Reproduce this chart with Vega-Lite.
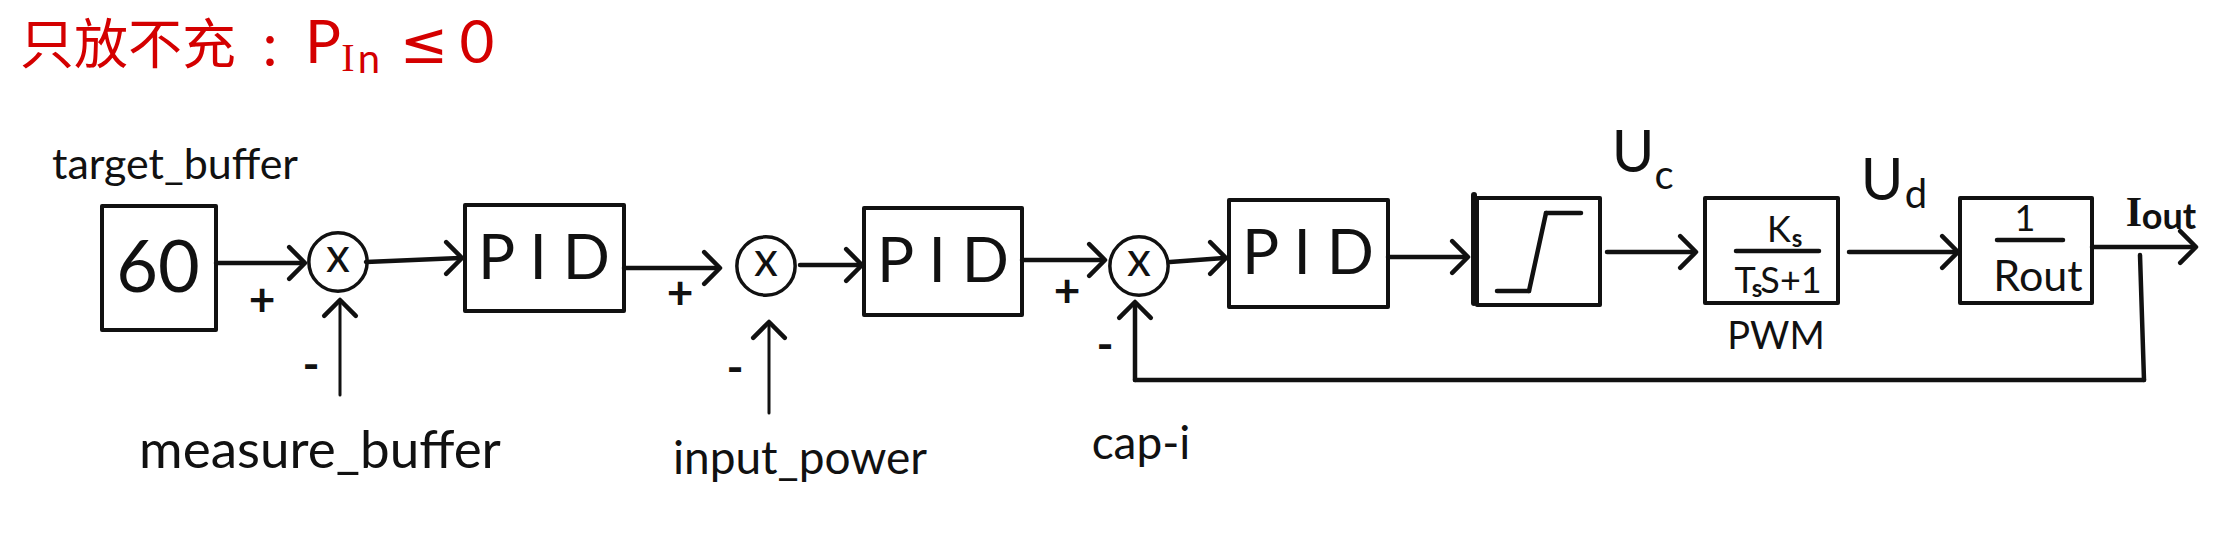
{
  "$schema": "https://vega.github.io/schema/vega-lite/v6.json",
  "width": 2221,
  "height": 548,
  "autosize": {"type": "fit", "contains": "padding"},
  "padding": 0,
  "background": "white",
  "config": {
    "view": {"stroke": null},
    "text": {"align": "center", "baseline": "middle", "font": "Lato, Roboto, sans-serif", "color": "#111111"}
  },
  "datasets": {
    "boxes": [
      {"block": "target", "x": 102, "x2": 216, "y": 206, "y2": 330},
      {"block": "pid1", "x": 465, "x2": 624, "y": 205, "y2": 311},
      {"block": "pid2", "x": 864, "x2": 1022, "y": 208, "y2": 315},
      {"block": "pid3", "x": 1229, "x2": 1388, "y": 200, "y2": 307},
      {"block": "sat", "x": 1477, "x2": 1600, "y": 198, "y2": 305},
      {"block": "pwm", "x": 1705, "x2": 1838, "y": 198, "y2": 303},
      {"block": "load", "x": 1960, "x2": 2092, "y": 198, "y2": 303}
    ],
    "segs": [
      {"kind": "main", "x": 216, "y": 263, "x2": 303, "y2": 263},
      {"kind": "main", "x": 366, "y": 262, "x2": 460, "y2": 258},
      {"kind": "main", "x": 624, "y": 268, "x2": 718, "y2": 268},
      {"kind": "main", "x": 800, "y": 265, "x2": 860, "y2": 265},
      {"kind": "main", "x": 1022, "y": 260, "x2": 1103, "y2": 260},
      {"kind": "main", "x": 1170, "y": 262, "x2": 1224, "y2": 258},
      {"kind": "main", "x": 1388, "y": 257, "x2": 1466, "y2": 257},
      {"kind": "main", "x": 1607, "y": 252, "x2": 1694, "y2": 252},
      {"kind": "main", "x": 1849, "y": 252, "x2": 1956, "y2": 252},
      {"kind": "main", "x": 2092, "y": 247, "x2": 2194, "y2": 247},
      {"kind": "main", "x": 2140, "y": 255, "x2": 2144, "y2": 380},
      {"kind": "main", "x": 2144, "y": 380, "x2": 1135, "y2": 380},
      {"kind": "main", "x": 1135, "y": 380, "x2": 1135, "y2": 304},
      {"kind": "main", "x": 1497, "y": 291, "x2": 1529, "y2": 291},
      {"kind": "main", "x": 1529, "y": 291, "x2": 1546, "y2": 213},
      {"kind": "main", "x": 1546, "y": 213, "x2": 1581, "y2": 213},
      {"kind": "main", "x": 1736, "y": 251, "x2": 1819, "y2": 251},
      {"kind": "main", "x": 1997, "y": 240, "x2": 2063, "y2": 240},
      {"kind": "thick", "x": 1474, "y": 195, "x2": 1474, "y2": 303},
      {"kind": "thin", "x": 340, "y": 395, "x2": 340, "y2": 302},
      {"kind": "thin", "x": 769, "y": 413, "x2": 769, "y2": 324}
    ],
    "heads": [
      {"x": 305, "y": 263, "dir": 0},
      {"x": 462, "y": 258, "dir": 0},
      {"x": 720, "y": 268, "dir": 0},
      {"x": 862, "y": 265, "dir": 0},
      {"x": 1105, "y": 260, "dir": 0},
      {"x": 1226, "y": 258, "dir": 0},
      {"x": 1468, "y": 257, "dir": 0},
      {"x": 1696, "y": 252, "dir": 0},
      {"x": 1958, "y": 252, "dir": 0},
      {"x": 2196, "y": 247, "dir": 0},
      {"x": 340, "y": 300, "dir": -90},
      {"x": 769, "y": 322, "dir": -90},
      {"x": 1135, "y": 302, "dir": -90}
    ],
    "junctions": [
      {"x": 338, "y": 262},
      {"x": 766, "y": 266},
      {"x": 1139, "y": 266}
    ],
    "labels": [
      {"role": "cjk", "x": 128, "y": 48, "text": "只放不充"},
      {"role": "tvar", "x": 270, "y": 48, "text": ":"},
      {"role": "tvar", "x": 323, "y": 45, "text": "P"},
      {"role": "tserif", "x": 348, "y": 59, "text": "I"},
      {"role": "tsub", "x": 369, "y": 61, "text": "n"},
      {"role": "tle", "x": 424, "y": 46, "text": "≤"},
      {"role": "tvar", "x": 477, "y": 45, "text": "0"},
      {"role": "small", "x": 175, "y": 166, "text": "target_buffer"},
      {"role": "big", "x": 158, "y": 270, "text": "60"},
      {"role": "pid", "x": 544, "y": 260, "text": "P I D"},
      {"role": "pid", "x": 943, "y": 263, "text": "P I D"},
      {"role": "pid", "x": 1308, "y": 255, "text": "P I D"},
      {"role": "xmark", "x": 338, "y": 258, "text": "x"},
      {"role": "xmark", "x": 766, "y": 262, "text": "x"},
      {"role": "xmark", "x": 1139, "y": 262, "text": "x"},
      {"role": "sign", "x": 262, "y": 302, "text": "+"},
      {"role": "sign", "x": 680, "y": 295, "text": "+"},
      {"role": "sign", "x": 1067, "y": 293, "text": "+"},
      {"role": "sign", "x": 311, "y": 367, "text": "-"},
      {"role": "sign", "x": 735, "y": 370, "text": "-"},
      {"role": "sign", "x": 1105, "y": 347, "text": "-"},
      {"role": "label", "x": 320, "y": 452, "text": "measure_buffer"},
      {"role": "label2", "x": 800, "y": 460, "text": "input_power"},
      {"role": "label2", "x": 1141, "y": 445, "text": "cap-i"},
      {"role": "var", "x": 1633, "y": 155, "text": "U"},
      {"role": "varsub", "x": 1664, "y": 177, "text": "c"},
      {"role": "var", "x": 1882, "y": 183, "text": "U"},
      {"role": "varsub", "x": 1916, "y": 196, "text": "d"},
      {"role": "iserif", "x": 2134, "y": 213, "text": "I"},
      {"role": "iout", "x": 2169, "y": 218, "text": "out"},
      {"role": "frac", "x": 1779, "y": 231, "text": "K"},
      {"role": "fracsub", "x": 1797, "y": 240, "text": "s"},
      {"role": "frac", "x": 1745, "y": 282, "text": "T"},
      {"role": "fracsub", "x": 1757, "y": 290, "text": "s"},
      {"role": "frac", "x": 1791, "y": 282, "text": "S+1"},
      {"role": "frac", "x": 2025, "y": 220, "text": "1"},
      {"role": "small", "x": 2038, "y": 278, "text": "Rout"},
      {"role": "pwm", "x": 1776, "y": 338, "text": "PWM"}
    ]
  },
  "encoding": {
    "x": {"type": "quantitative", "scale": {"domain": [0, 2221], "nice": false, "zero": false}, "axis": null},
    "y": {"type": "quantitative", "scale": {"domain": [0, 548], "nice": false, "zero": false, "reverse": true}, "axis": null}
  },
  "layer": [
    {
      "data": {"name": "boxes"},
      "mark": {"type": "rect", "fill": null, "stroke": "#111", "strokeWidth": 4, "strokeJoin": "round"},
      "encoding": {
        "x": {"field": "x", "type": "quantitative"},
        "x2": {"field": "x2"},
        "y": {"field": "y", "type": "quantitative"},
        "y2": {"field": "y2"}
      }
    },
    {
      "data": {"name": "segs"},
      "mark": {"type": "rule", "color": "#111", "strokeCap": "round"},
      "encoding": {
        "x": {"field": "x", "type": "quantitative"},
        "x2": {"field": "x2"},
        "y": {"field": "y", "type": "quantitative"},
        "y2": {"field": "y2"},
        "strokeWidth": {"field": "kind", "type": "nominal", "scale": {"domain": ["thin", "main", "thick"], "range": [3, 6]}, "legend": null}
      }
    },
    {
      "data": {"name": "heads"},
      "mark": {"type": "point", "shape": "M-1,-1L0,0L-1,1", "filled": false, "stroke": "#111", "strokeWidth": 4.5, "strokeCap": "round", "strokeJoin": "round", "size": 1000, "opacity": 1},
      "encoding": {
        "x": {"field": "x", "type": "quantitative"},
        "y": {"field": "y", "type": "quantitative"},
        "angle": {"field": "dir", "type": "quantitative", "scale": null}
      }
    },
    {
      "data": {"name": "junctions"},
      "mark": {"type": "point", "shape": "circle", "filled": false, "stroke": "#111", "strokeWidth": 3.5, "size": 3400, "opacity": 1},
      "encoding": {
        "x": {"field": "x", "type": "quantitative"},
        "y": {"field": "y", "type": "quantitative"}
      }
    },
    {
      "data": {"name": "labels"},
      "transform": [{"filter": "datum.role === 'cjk'"}],
      "mark": {"type": "text", "font": "Noto Sans CJK SC", "fontSize": 54, "color": "#d40000"},
      "encoding": {"x": {"field": "x", "type": "quantitative"}, "y": {"field": "y", "type": "quantitative"}, "text": {"field": "text"}}
    },
    {
      "data": {"name": "labels"},
      "transform": [{"filter": "datum.role === 'tvar'"}],
      "mark": {"type": "text", "fontSize": 60, "color": "#d40000"},
      "encoding": {"x": {"field": "x", "type": "quantitative"}, "y": {"field": "y", "type": "quantitative"}, "text": {"field": "text"}}
    },
    {
      "data": {"name": "labels"},
      "transform": [{"filter": "datum.role === 'tle'"}],
      "mark": {"type": "text", "font": "DejaVu Sans", "fontSize": 58, "color": "#d40000"},
      "encoding": {"x": {"field": "x", "type": "quantitative"}, "y": {"field": "y", "type": "quantitative"}, "text": {"field": "text"}}
    },
    {
      "data": {"name": "labels"},
      "transform": [{"filter": "datum.role === 'tserif'"}],
      "mark": {"type": "text", "font": "Liberation Serif", "fontSize": 40, "color": "#d40000"},
      "encoding": {"x": {"field": "x", "type": "quantitative"}, "y": {"field": "y", "type": "quantitative"}, "text": {"field": "text"}}
    },
    {
      "data": {"name": "labels"},
      "transform": [{"filter": "datum.role === 'tsub'"}],
      "mark": {"type": "text", "fontSize": 40, "color": "#d40000"},
      "encoding": {"x": {"field": "x", "type": "quantitative"}, "y": {"field": "y", "type": "quantitative"}, "text": {"field": "text"}}
    },
    {
      "data": {"name": "labels"},
      "transform": [{"filter": "datum.role === 'big'"}],
      "mark": {"type": "text", "fontSize": 72},
      "encoding": {"x": {"field": "x", "type": "quantitative"}, "y": {"field": "y", "type": "quantitative"}, "text": {"field": "text"}}
    },
    {
      "data": {"name": "labels"},
      "transform": [{"filter": "datum.role === 'pid'"}],
      "mark": {"type": "text", "fontSize": 62},
      "encoding": {"x": {"field": "x", "type": "quantitative"}, "y": {"field": "y", "type": "quantitative"}, "text": {"field": "text"}}
    },
    {
      "data": {"name": "labels"},
      "transform": [{"filter": "datum.role === 'xmark'"}],
      "mark": {"type": "text", "fontSize": 48},
      "encoding": {"x": {"field": "x", "type": "quantitative"}, "y": {"field": "y", "type": "quantitative"}, "text": {"field": "text"}}
    },
    {
      "data": {"name": "labels"},
      "transform": [{"filter": "datum.role === 'sign'"}],
      "mark": {"type": "text", "fontSize": 46, "fontWeight": "bold"},
      "encoding": {"x": {"field": "x", "type": "quantitative"}, "y": {"field": "y", "type": "quantitative"}, "text": {"field": "text"}}
    },
    {
      "data": {"name": "labels"},
      "transform": [{"filter": "datum.role === 'label'"}],
      "mark": {"type": "text", "fontSize": 53},
      "encoding": {"x": {"field": "x", "type": "quantitative"}, "y": {"field": "y", "type": "quantitative"}, "text": {"field": "text"}}
    },
    {
      "data": {"name": "labels"},
      "transform": [{"filter": "datum.role === 'label2'"}],
      "mark": {"type": "text", "fontSize": 46},
      "encoding": {"x": {"field": "x", "type": "quantitative"}, "y": {"field": "y", "type": "quantitative"}, "text": {"field": "text"}}
    },
    {
      "data": {"name": "labels"},
      "transform": [{"filter": "datum.role === 'small'"}],
      "mark": {"type": "text", "fontSize": 43},
      "encoding": {"x": {"field": "x", "type": "quantitative"}, "y": {"field": "y", "type": "quantitative"}, "text": {"field": "text"}}
    },
    {
      "data": {"name": "labels"},
      "transform": [{"filter": "datum.role === 'pwm'"}],
      "mark": {"type": "text", "fontSize": 38},
      "encoding": {"x": {"field": "x", "type": "quantitative"}, "y": {"field": "y", "type": "quantitative"}, "text": {"field": "text"}}
    },
    {
      "data": {"name": "labels"},
      "transform": [{"filter": "datum.role === 'iserif'"}],
      "mark": {"type": "text", "font": "Liberation Serif", "fontSize": 42, "fontWeight": "bold"},
      "encoding": {"x": {"field": "x", "type": "quantitative"}, "y": {"field": "y", "type": "quantitative"}, "text": {"field": "text"}}
    },
    {
      "data": {"name": "labels"},
      "transform": [{"filter": "datum.role === 'iout'"}],
      "mark": {"type": "text", "fontSize": 36, "fontWeight": "bold"},
      "encoding": {"x": {"field": "x", "type": "quantitative"}, "y": {"field": "y", "type": "quantitative"}, "text": {"field": "text"}}
    },
    {
      "data": {"name": "labels"},
      "transform": [{"filter": "datum.role === 'var'"}],
      "mark": {"type": "text", "fontSize": 58},
      "encoding": {"x": {"field": "x", "type": "quantitative"}, "y": {"field": "y", "type": "quantitative"}, "text": {"field": "text"}}
    },
    {
      "data": {"name": "labels"},
      "transform": [{"filter": "datum.role === 'varsub'"}],
      "mark": {"type": "text", "fontSize": 40},
      "encoding": {"x": {"field": "x", "type": "quantitative"}, "y": {"field": "y", "type": "quantitative"}, "text": {"field": "text"}}
    },
    {
      "data": {"name": "labels"},
      "transform": [{"filter": "datum.role === 'frac'"}],
      "mark": {"type": "text", "fontSize": 36},
      "encoding": {"x": {"field": "x", "type": "quantitative"}, "y": {"field": "y", "type": "quantitative"}, "text": {"field": "text"}}
    },
    {
      "data": {"name": "labels"},
      "transform": [{"filter": "datum.role === 'fracsub'"}],
      "mark": {"type": "text", "fontSize": 24, "fontWeight": "bold"},
      "encoding": {"x": {"field": "x", "type": "quantitative"}, "y": {"field": "y", "type": "quantitative"}, "text": {"field": "text"}}
    }
  ]
}
